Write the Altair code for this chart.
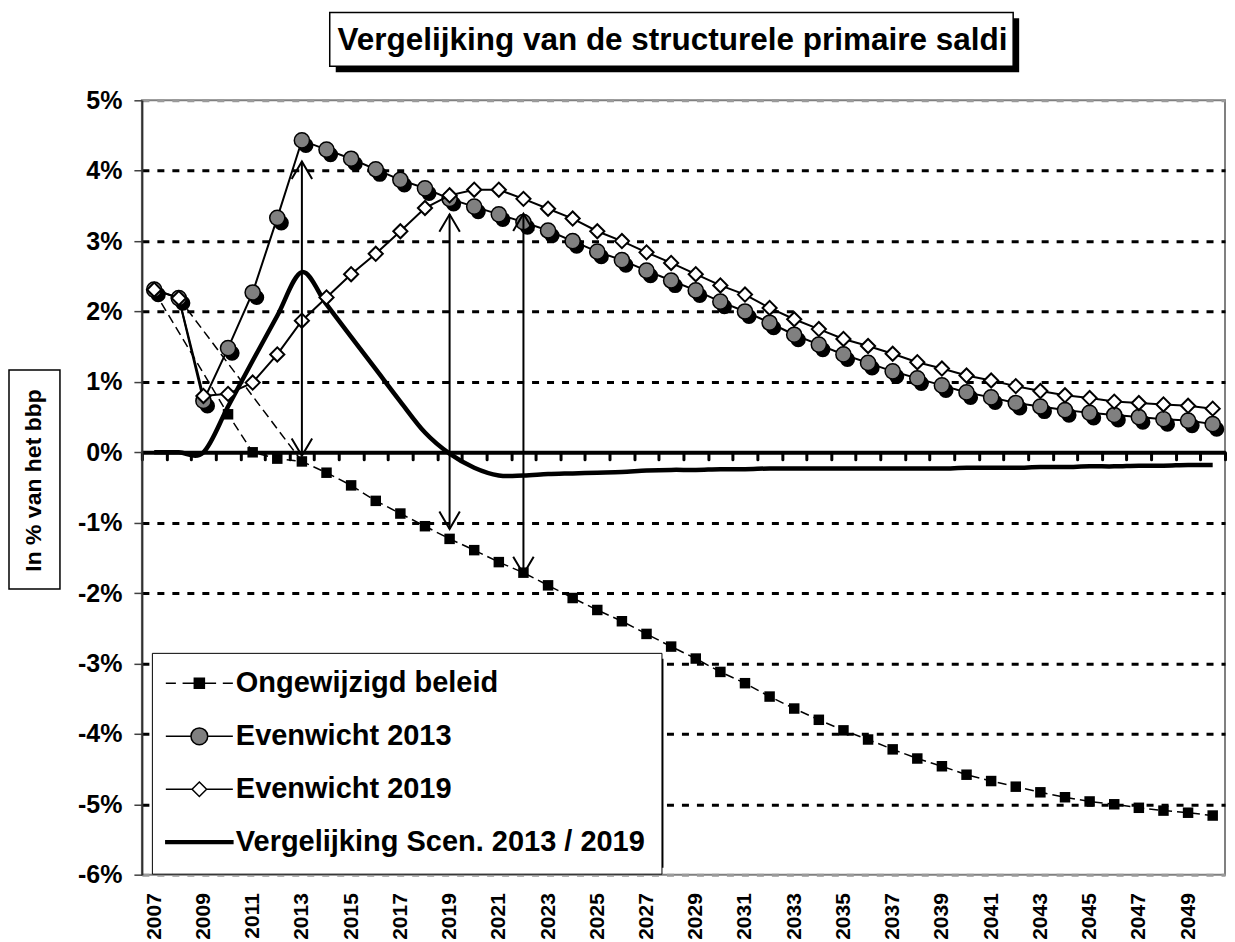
import altair as alt
import pandas as pd

FONT = "Liberation Sans"

# ---------------- data ----------------
years = list(range(2007, 2051))

ongewijzigd = [2.29, None, None, 0.54, 0.00, -0.09, -0.13, -0.29, -0.47, -0.69,
               -0.87, -1.05, -1.23, -1.39, -1.56, -1.71, -1.89, -2.07, -2.24, -2.40,
               -2.58, -2.76, -2.93, -3.12, -3.28, -3.47, -3.64, -3.80, -3.95, -4.08,
               -4.22, -4.35, -4.46, -4.58, -4.67, -4.75, -4.83, -4.90, -4.96, -5.00,
               -5.05, -5.09, -5.12, -5.16]

evenwicht_2013 = [2.31, 2.19, 0.73, 1.48, 2.27, 3.33, 4.43, 4.30, 4.17, 4.02,
                  3.87, 3.75, 3.60, 3.49, 3.38, 3.27, 3.15, 3.00, 2.85, 2.73,
                  2.58, 2.44, 2.30, 2.14, 2.00, 1.84, 1.67, 1.53, 1.39, 1.27,
                  1.15, 1.05, 0.95, 0.85, 0.78, 0.70, 0.65, 0.60, 0.56, 0.53,
                  0.50, 0.47, 0.45, 0.40]

evenwicht_2019 = [2.31, 2.19, 0.80, 0.83, 0.99, 1.39, 1.87, 2.20, 2.53, 2.82,
                  3.14, 3.47, 3.65, 3.73, 3.73, 3.60, 3.46, 3.32, 3.14, 3.00,
                  2.84, 2.69, 2.53, 2.37, 2.24, 2.05, 1.89, 1.75, 1.61, 1.51,
                  1.40, 1.28, 1.19, 1.09, 1.02, 0.94, 0.87, 0.81, 0.77, 0.72,
                  0.70, 0.68, 0.66, 0.62]

vergelijking = [0.00, 0.00, 0.00, 0.65, 1.30, 1.94, 2.56, 2.10, 1.64, 1.18,
                0.72, 0.28, -0.02, -0.22, -0.33, -0.33, -0.31, -0.30, -0.29, -0.28,
                -0.26, -0.25, -0.25, -0.24, -0.24, -0.23, -0.23, -0.23, -0.23, -0.23,
                -0.23, -0.23, -0.23, -0.22, -0.22, -0.22, -0.21, -0.21, -0.20, -0.20,
                -0.19, -0.19, -0.18, -0.18]

# thin dashed connector
hulp_years = [2008, 2013]
hulp_values = [2.19, -0.13]

# double arrows
arrow_years = [2013, 2019, 2022]
arrow_top = [4.13, 3.38, 3.39]
arrow_bottom = [-0.05, -1.09, -1.73]

series_names = ["Ongewijzigd beleid", "Evenwicht 2013", "Evenwicht 2019",
                "Vergelijking Scen. 2013 / 2019"]
y_ticks = list(range(-6, 6))
x_label_years = years[::2]
title_text = "Vergelijking van de structurele primaire saldi"
y_title = "In % van het bbp"

# ---------------- frames ----------------
df = pd.DataFrame({"jaar": years, "ong": ongewijzigd, "e13": evenwicht_2013,
                   "e19": evenwicht_2019, "verg": vergelijking})
hulp_df = pd.DataFrame({"jaar": hulp_years, "v": hulp_values})
arrow_df = pd.DataFrame({"jaar": arrow_years, "top": arrow_top, "bottom": arrow_bottom})
legend_df = pd.DataFrame({"serie": series_names})
one = pd.DataFrame({"k": [0]})
boundaries = [y - 0.5 for y in years] + [years[-1] + 0.5]

W, H = 1084, 775
YMIN, YMAX = -6, 5

x_scale = alt.Scale(domain=[years[0] - 0.5, years[-1] + 0.5], nice=False, zero=False)
y_scale = alt.Scale(domain=[YMIN, YMAX], nice=False, zero=False)

y_axis = alt.Axis(
    values=y_ticks, labelExpr="datum.value + '%'",
    labelFont=FONT, labelFontSize=25, labelFontWeight="bold", labelColor="black",
    labelPadding=12, tickSize=8, tickColor="#404040", tickWidth=1.5,
    domainColor="#303030", domainWidth=2,
    grid=True, gridDash=[7, 8], gridWidth=3,
    gridColor={"condition": {"test": "datum.value >= 5 || datum.value <= -6", "value": "#9a9a9a"},
               "value": "black"},
    title=y_title, titleFont=FONT, titleFontSize=23, titleFontWeight="bold",
    titleColor="black", titleAngle=270, titleX=-108, titleY=380,
    titleAlign="center", titleBaseline="middle",
)

x_label_axis = alt.Axis(
    values=x_label_years, format="d", labelAngle=270, labelFont=FONT,
    labelFontSize=21, labelFontWeight="bold", labelColor="black",
    ticks=False, tickSize=0, domain=False, grid=False, labelPadding=18,
    labelFlush=False, labelOverlap=False, title=None, orient="bottom",
)

zero_offset = -(H * (0 - YMIN) / (YMAX - YMIN))
x_tick_axis = alt.Axis(
    values=boundaries, labels=False, ticks=True, tickSize=7, tickWidth=3,
    tickColor="black", tickCap="round", domain=True, domainColor="black",
    domainWidth=4, grid=False, offset=zero_offset, orient="bottom", title=None,
)


def X(axis=None):
    return alt.X("jaar:Q", scale=x_scale, axis=axis)


def Y(field):
    return alt.Y(f"{field}:Q", scale=y_scale, axis=y_axis)


# ---------------- decorations ----------------
title_shadow = alt.Chart(one).mark_rect(fill="black").encode(
    x=alt.value(194), x2=alt.value(878), y=alt.value(-82), y2=alt.value(-28))
title_box = alt.Chart(one).mark_rect(fill="white", stroke="black", strokeWidth=1.5).encode(
    x=alt.value(188), x2=alt.value(872), y=alt.value(-88), y2=alt.value(-34))
title_mark = alt.Chart(one).mark_text(
    text=title_text, font=FONT, fontSize=31.5, fontWeight="bold", color="black",
    align="center", baseline="alphabetic").encode(x=alt.value(531), y=alt.value(-50))
ytitle_box = alt.Chart(one).mark_rect(fill="transparent", stroke="black", strokeWidth=1.5).encode(
    x=alt.value(-133), x2=alt.value(-82), y=alt.value(270), y2=alt.value(489))
legend_shadow = alt.Chart(one).mark_rect(fill="black").encode(
    x=alt.value(16), x2=alt.value(522), y=alt.value(559), y2=alt.value(768))

# ---------------- series ----------------
hulp_line = alt.Chart(hulp_df).mark_line(color="black", strokeWidth=1.5, strokeDash=[9, 5]).encode(
    x=X(), y=Y("v"))

ong_base = alt.Chart(df).transform_filter("isValid(datum.ong)")
ong_line = ong_base.mark_line(color="black", strokeWidth=1.5, strokeDash=[9, 5]).encode(
    x=X(x_tick_axis), y=Y("ong"))
ong_pts = ong_base.mark_square(size=110, color="black", opacity=1).encode(x=X(), y=Y("ong"))

verg_line = alt.Chart(df).mark_line(color="black", strokeWidth=4.5, interpolate="cardinal").encode(
    x=X(), y=Y("verg"))

e13_line = alt.Chart(df).mark_line(color="black", strokeWidth=2).encode(
    x=X(x_label_axis), y=Y("e13"))
e13_shadow = alt.Chart(df).mark_circle(size=230, color="black", opacity=1, xOffset=4, yOffset=5).encode(
    x=X(), y=Y("e13"))
e13_pts = alt.Chart(df).mark_point(shape="circle", filled=True, fill="#808080", stroke="black",
                                   strokeWidth=1.5, size=230, opacity=1).encode(x=X(), y=Y("e13"))

e19_line = alt.Chart(df).mark_line(color="black", strokeWidth=2).encode(x=X(), y=Y("e19"))
e19_pts = alt.Chart(df).mark_point(shape="diamond", filled=True, fill="white", stroke="black",
                                   strokeWidth=2, size=200, opacity=1).encode(x=X(), y=Y("e19"))

ARROW_UP = "M-1,1.7L0,0L1,1.7"
arrow_rules = alt.Chart(arrow_df).mark_rule(color="black", strokeWidth=2).encode(
    x=X(), y=Y("top"), y2="bottom:Q")
arrow_heads_top = alt.Chart(arrow_df).mark_point(shape=ARROW_UP, size=420, filled=False,
                                                 stroke="black", strokeWidth=2, opacity=1).encode(
    x=X(), y=Y("top"))
arrow_heads_bot = alt.Chart(arrow_df).mark_point(shape=ARROW_UP, size=420, filled=False, angle=180,
                                                 stroke="black", strokeWidth=2, opacity=1).encode(
    x=X(), y=Y("bottom"))

# ---------------- legend ----------------
legend_paths = [
    "M-3,0H-2.1M-1.5,0H-0.45M0.45,0H1.5M2.1,0H3M-0.45,-0.45H0.45V0.45H-0.45Z",
    "M-3,0H-0.75M0.75,0H3M-0.75,0A0.75,0.75,0,1,1,0.75,0A0.75,0.75,0,1,1,-0.75,0Z",
    "M-3,0H-0.65M0.65,0H3M0,-0.65L0.65,0L0,0.65L-0.65,0Z",
    "M-3,-0.12H3V0.12H-3Z",
]
legend_fills = ["black", "#808080", "white", "black"]

leg = alt.Legend(
    title=None, orient="none", legendX=10, legendY=553, direction="vertical",
    fillColor="white", strokeColor="black", padding=16,
    labelFont=FONT, labelFontSize=29, labelFontWeight="bold", labelColor="black",
    labelLimit=0, labelOffset=22, symbolOffset=17, symbolSize=500,
    symbolStrokeWidth=1.5, rowPadding=23,
)
legend_layer = alt.Chart(legend_df).transform_filter("false").mark_point(
    filled=True, stroke="black", strokeWidth=1.5, opacity=1).encode(
    shape=alt.Shape("serie:N", scale=alt.Scale(domain=series_names, range=legend_paths), legend=leg),
    fill=alt.Fill("serie:N", scale=alt.Scale(domain=series_names, range=legend_fills), legend=leg),
)

chart = alt.layer(
    title_shadow, title_box, title_mark, ytitle_box, legend_shadow,
    hulp_line, ong_line, ong_pts,
    verg_line,
    e13_line, e13_shadow, e13_pts,
    e19_line, e19_pts,
    arrow_rules, arrow_heads_top, arrow_heads_bot,
    legend_layer,
).resolve_axis(x="independent").properties(
    width=W, height=H,
    padding={"left": 0, "top": 3, "right": 0, "bottom": 0},
).configure(background="white").configure_view(stroke="#808080", strokeWidth=2)

chart.save("out.html", embed_options={"renderer": "svg", "actions": False})
